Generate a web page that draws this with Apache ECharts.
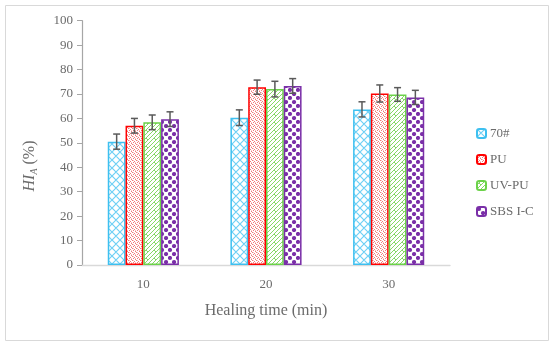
<!DOCTYPE html>
<html><head><meta charset="utf-8">
<script src="https://cdn.jsdelivr.net/npm/echarts@6/dist/echarts.min.js"></script>
<style>html,body{margin:0;padding:0;background:#fff}#c{width:550px;height:342px}</style>
</head><body><div id="c"></div>
<script>
var categories = ['10', '20', '30'];
var seriesNames = ['70#', 'PU', 'UV-PU', 'SBS I-C'];
var v70 = [50.5, 60.3, 63.7];
var vPU = [57.0, 72.8, 70.2];
var vUVPU = [58.4, 72.0, 69.8];
var vSBS = [59.7, 73.3, 68.6];
var e70 = [3.1, 3.2, 3.1];
var ePU = [3.0, 2.9, 3.5];
var eUVPU = [3.0, 3.2, 2.8];
var eSBS = [3.0, 3.0, 2.9];
var yTicks = [0, 10, 20, 30, 40, 50, 60, 70, 80, 90, 100];

var values = [v70, vPU, vUVPU, vSBS];
var errors = [e70, ePU, eUVPU, eSBS];
var borderColors = ['#3EC0F0', '#FF0000', '#6CD24A', '#7A2FA8'];
var textColor = '#6B6B6B';

function mk(w, h, draw) {
  var c = document.createElement('canvas'); c.width = w; c.height = h;
  var g = c.getContext('2d'); g.fillStyle = '#fff'; g.fillRect(0, 0, w, h); draw(g); return c;
}
var patterns = [
  mk(8, 8, function (g) {
    g.strokeStyle = '#6FD0F5'; g.lineWidth = 1.2;
    g.beginPath(); g.moveTo(0, 0); g.lineTo(8, 8); g.moveTo(8, 0); g.lineTo(0, 8);
    g.moveTo(-4, 4); g.lineTo(4, 12); g.moveTo(4, -4); g.lineTo(12, 4);
    g.moveTo(12, 4); g.lineTo(4, 12); g.moveTo(4, -4); g.lineTo(-4, 4);
    g.stroke();
  }),
  mk(4, 4, function (g) {
    g.fillStyle = '#F27A7A';
    g.fillRect(0, 0, 1, 1); g.fillRect(2, 1, 1, 1); g.fillRect(1, 2, 1, 1); g.fillRect(3, 3, 1, 1);
    g.fillStyle = '#FBC4C4'; g.fillRect(1, 0, 1, 1); g.fillRect(3, 2, 1, 1);
  }),
  mk(8, 8, function (g) {
    g.strokeStyle = '#86D866'; g.lineWidth = 1;
    g.beginPath(); g.moveTo(0, 8); g.lineTo(8, 0); g.moveTo(-4, 8); g.lineTo(4, 0); g.moveTo(4, 8); g.lineTo(12, 0);
    g.moveTo(2, 2); g.lineTo(4, 4);
    g.stroke();
  }),
  mk(8, 8, function (g) {
    g.fillStyle = '#7A2FA8';
    function d(x, y) { g.beginPath(); g.arc(x, y, 2.1, 0, Math.PI * 2); g.fill(); }
    d(2, 2); d(6, 6); d(-2, 6); d(10, 6); d(6, -2); d(6, 10);
  })
];

var gap = 0.42;
var series = [];
seriesNames.forEach(function (n, i) {
  series.push({
    name: n, type: 'bar', data: values[i], barGap: '0%', barCategoryGap: (gap * 100) + '%',
    itemStyle: { color: { image: patterns[i], repeat: 'repeat' }, borderColor: borderColors[i], borderWidth: 1.5 }
  });
});
seriesNames.forEach(function (n, i) {
  series.push({
    type: 'custom', name: n + ' err', silent: true, z: 10,
    data: values[i].map(function (v, k) { return [k, v, errors[i][k]]; }),
    encode: { x: 0, y: 1 },
    renderItem: function (params, api) {
      var k = api.value(0), v = api.value(1), e = api.value(2);
      var band = api.size([1, 0])[0];
      var bw = band * (1 - gap) / 4;
      var c = api.coord([k, v]);
      var x = c[0] - band * (1 - gap) / 2 + bw * (i + 0.5);
      var yh = api.coord([k, v + e])[1], yl = api.coord([k, v - e])[1];
      var cap = 3.5;
      var st = { stroke: '#5A5A5A', lineWidth: 1.5 };
      return { type: 'group', children: [
        { type: 'line', shape: { x1: x, y1: yh, x2: x, y2: yl }, style: st },
        { type: 'line', shape: { x1: x - cap, y1: yh, x2: x + cap, y2: yh }, style: st },
        { type: 'line', shape: { x1: x - cap, y1: yl, x2: x + cap, y2: yl }, style: st }
      ] };
    }
  });
});

var chart = echarts.init(document.getElementById('c'), null, { renderer: 'canvas' });
var font = 'Liberation Serif';
chart.setOption({
  animation: false,
  textStyle: { fontFamily: font },
  grid: { left: 82, right: 100, top: 20.7, bottom: 77, containLabel: false },
  legend: {
    orient: 'vertical', left: 471, top: 122, itemWidth: 9, itemHeight: 9, itemGap: 13,
    data: seriesNames, selectedMode: false,
    textStyle: { fontFamily: font, fontSize: 13, color: textColor, padding: [0, 0, 0, -1] }
  },
  xAxis: {
    type: 'category', data: categories,
    axisLine: { lineStyle: { color: '#D9D9D9', width: 1.3 } }, axisTick: { show: false },
    axisLabel: { fontFamily: font, fontSize: 13, color: textColor, margin: 13 },
    name: 'Healing time (min)', nameLocation: 'middle', nameGap: 38,
    nameTextStyle: { fontFamily: font, fontSize: 16, color: textColor }
  },
  yAxis: {
    type: 'value', min: 0, max: 100, interval: 10,
    axisLine: { show: true, lineStyle: { color: '#A6A6A6', width: 1.2 } },
    axisTick: { show: true, length: 5, lineStyle: { color: '#A6A6A6' } },
    splitLine: { show: false },
    axisLabel: { fontFamily: font, fontSize: 13, color: textColor, margin: 9,
      customValues: yTicks }
  },
  graphic: [
    { type: 'rect', left: 3, top: 3, shape: { width: 543, height: 335 }, style: { fill: 'none', stroke: '#D9D9D9', lineWidth: 1 }, silent: true },
    { type: 'text', x: 30, y: 166, rotation: Math.PI / 2,
      style: { rich: {
        a: { fontFamily: font, fontStyle: 'italic', fontSize: 16, fill: textColor },
        s: { fontFamily: font, fontStyle: 'italic', fontSize: 10, fill: textColor, padding: [8, 0, 0, 0] },
        b: { fontFamily: font, fontSize: 16, fill: textColor }
      }, text: '{a|HI}{s|A}{b| (%)}', align: 'center', verticalAlign: 'middle' } }
  ],
  series: series
});
</script></body></html>
